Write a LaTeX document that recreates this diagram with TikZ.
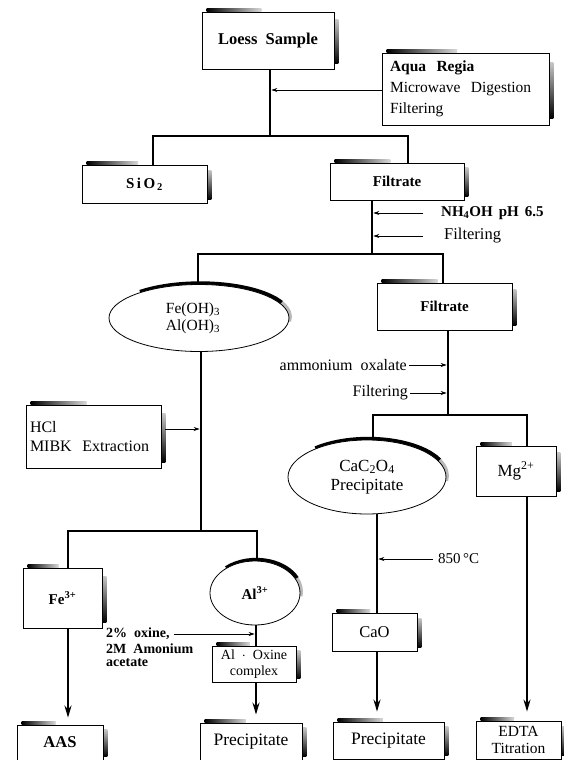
\documentclass[tikz,border=0pt]{standalone}
\usepackage{fontspec}
\setmainfont{Liberation Serif}
\usetikzlibrary{arrows.meta,calc,shapes.geometric}
\pgfdeclarelayer{bg}
\pgfsetlayers{bg,main}
\newcommand\fsz{\fontsize{15}{18}\selectfont}
\newcommand\fsize[2]{\fontsize{#1}{#2}\selectfont}
\newcommand\boxshade[1]{%
  \shade[left color=black, right color=gray!30] let \p1=(#1.north west), \p2=(#1.south east) in
    ({\x1+5pt},\y1) rectangle ({\x1+0.45*(\x2-\x1)},{\y1+3.5pt});
  \shade[top color=gray!45, bottom color=black] let \p1=(#1.north west), \p2=(#1.south east) in
    (\x2,{\y1-0.14*(\y1-\y2)}) rectangle ({\x2+4pt},{\y2+0.1*(\y1-\y2)});
}
\newcommand\ellshade[3]{%
  \draw[line width=4pt, black] ($(#1.center)+(1.2,-1.2)$) ++(-132:#2 and #3)
     arc[start angle=-132, end angle=-25, x radius=#2, y radius=#3];
  \draw[line width=3.5pt, gray!55] ($(#1.center)+(1.2,-1.2)$) ++(-25:#2 and #3)
     arc[start angle=-25, end angle=8, x radius=#2, y radius=#3];
}
\begin{document}
\begin{tikzpicture}[x=1pt,y=-1pt,
  box/.style={draw, line width=0.8pt, fill=white, inner sep=2pt, align=center, font=\fsz},
  oval/.style={draw, ellipse, line width=0.8pt, fill=white, inner sep=0pt, align=center, font=\fsz},
  lbl/.style={inner sep=0pt, font=\fsz, align=left},
  conn/.style={line width=2.3pt, line join=miter},
  darrow/.style={line width=2pt, -{Stealth[length=12pt,width=7pt]}},
  tarrow/.style={line width=0.7pt, -{Stealth[length=6pt,width=4pt]}},
]
\useasboundingbox (0,0) rectangle (564,760);

% ---------- nodes ----------
\node[box, minimum width=132pt, minimum height=57pt, font=\fsize{16.5}{19}] (loess) at (268,40.5) {\bfseries Loess\ \ Sample};
\node[box, minimum width=167pt, minimum height=72pt, text width=151pt, align=left, font=\fsize{15.5}{19}] (aqua) at (465.5,89)
  {\textbf{Aqua\ \ Regia}\\[2pt] Microwave\ \ Digestion\\[2pt] Filtering};
\node[box, minimum width=125pt, minimum height=38pt] (sio2) at (144.5,184) {\bfseries S\kern2.5pt i\kern2.5pt O\kern2pt\textsubscript{2}};
\node[box, minimum width=134pt, minimum height=37pt] (filt1) at (397,181.5) {\bfseries Filtrate};
\node[oval, minimum width=180pt, minimum height=67pt, font=\fsize{15.5}{17.2}] (e1) at (199,318)
  {Fe(OH)\textsubscript{3}\hspace*{12pt}\\ Al(OH)\textsubscript{3}\hspace*{12pt}};
\node[box, minimum width=135pt, minimum height=47pt] (filt2) at (444.5,306.5) {\bfseries Filtrate};
\node[box, minimum width=135pt, minimum height=63pt, text width=127pt, align=left, font=\fsize{16}{19}] (hcl) at (93.5,436.5)
  {HCl\\ MIBK\ \ Extraction};
\node[oval, minimum width=158pt, minimum height=74pt, font=\fsize{17}{19.5}] (e2) at (367,477) {CaC\textsubscript{2}O\textsubscript{4}\\ Precipitate};
\node[box, minimum width=80pt, minimum height=50pt, font=\fsize{17}{19}] (mg) at (516,471) {Mg\textsuperscript{2+}};
\node[box, minimum width=79pt, minimum height=60pt] (fe) at (62.5,598) {\bfseries Fe\textsuperscript{3+}};
\node[oval, minimum width=90pt, minimum height=64pt] (e3) at (255,593) {\bfseries Al\textsuperscript{3+}};
\node[box, minimum width=84pt, minimum height=36pt, inner sep=0pt, font=\fsize{14}{15.6}] (alox) at (254,664) {Al\ \ $\cdot$\ \ Oxine\\ complex};
\node[box, minimum width=85pt, minimum height=38pt, font=\fsize{16.5}{19}] (cao) at (374.5,632) {CaO};
\node[box, minimum width=86pt, minimum height=35pt, font=\fsize{16.5}{19}] (aas) at (60,742.5) {\bfseries AAS};
\node[box, minimum width=102pt, minimum height=37pt, font=\fsize{17.5}{19}] (prec1) at (251,741.5) {Precipitate};
\node[box, minimum width=111pt, minimum height=37pt, font=\fsize{17.5}{19}] (prec2) at (388.5,740.5) {Precipitate};
\node[box, minimum width=85pt, minimum height=38pt, inner sep=0pt, font=\fsize{15.5}{17.3}] (edta) at (518.5,740) {EDTA\\ Titration};

% ---------- labels ----------
\node[lbl, anchor=west] (nh4) at (441,213) {\bfseries NH\textsubscript{4}OH\hspace{6pt}pH\hspace{6pt}6.5};
\node[lbl, anchor=west, font=\fsize{16.5}{19}] (filtA) at (444,236) {Filtering};
\node[lbl, anchor=east, font=\fsize{16}{19}] (amox) at (407,365) {ammonium\hspace{8pt}oxalate};
\node[lbl, anchor=east, font=\fsize{16}{19}] (filtB) at (408,393) {Filtering};
\node[lbl, anchor=west] (t850) at (438,559) {850\,°C};
\node[lbl, anchor=west, font=\fsize{14}{16}\bfseries] (ox1) at (106,634) {2\%\ \ oxine,};
\node[lbl, anchor=west, font=\fsize{14}{16}\bfseries] (ox2) at (106,649) {2M\ \ Amonium};
\node[lbl, anchor=west, font=\fsize{14}{16}\bfseries] (ox3) at (106,663) {acetate};

% ---------- junction coordinates ----------
\coordinate (j1) at (270,136);
\coordinate (c1) at (153,136);
\coordinate (c2) at (408,136);
\coordinate (j2) at (372,254);
\coordinate (c3) at (198,254);
\coordinate (c4) at (443,254);
\coordinate (j4) at (448,415);
\coordinate (c5) at (373,415);
\coordinate (c6) at (527,415);
\coordinate (j5) at (201,531);
\coordinate (c7) at (68,531);
\coordinate (c8) at (257,531);
\coordinate (j6) at (377,559);
\coordinate (j7) at (256,634);

% ---------- connectors ----------
\draw[conn] (loess.south -| j1) -- (j1);
\draw[conn] (sio2.north -| c1) -- (c1) -- (c2) -- (filt1.north -| c2);
\draw[conn] (filt1.south -| j2) -- (j2);
\draw[conn] (e1.north -| c3) -- (c3) -- (c4) -- (filt2.north -| c4);
\draw[conn] (filt2.south -| j4) -- (j4);
\draw[conn] (e2.north -| c5) -- (c5) -- (c6) -- (mg.north -| c6);
\draw[conn] (e1.south -| j5) -- (j5);
\draw[conn] (fe.north -| c7) -- (c7) -- (c8) -- (e3.north -| c8);
\draw[conn] (e3.south -| j7) -- (alox.north -| j7);
\draw[conn] (e2.south -| j6) -- (cao.north -| j6);

\draw[darrow, shorten >=7pt] (fe.south -| c7) -- (aas.north -| c7);
\draw[darrow, shorten >=8pt] (alox.south -| j7) -- (prec1.north -| j7);
\draw[darrow, shorten >=10pt] (cao.south -| j6) -- (prec2.north -| j6);
\draw[darrow, shorten >=9pt] (mg.south -| c6) -- (edta.north -| c6);

% ---------- side arrows ----------
\draw[tarrow, shorten >=1.3pt] ([yshift=-1pt]aqua.west) -- ([yshift=-1pt]aqua.west -| j1);
\draw[tarrow, shorten <=18pt, shorten >=1.3pt] (nh4.west) -- (nh4.west -| j2);
\draw[tarrow, shorten <=21pt, shorten >=1.3pt] (filtA.west) -- (filtA.west -| j2);
\draw[tarrow, shorten <=2pt, shorten >=1.3pt] (amox.east) -- (amox.east -| j4);
\draw[tarrow, shorten <=2pt, shorten >=1.3pt] (filtB.east) -- (filtB.east -| j4);
\draw[tarrow, shorten <=4pt, shorten >=1.3pt] ([yshift=7.5pt]hcl.east) -- ([yshift=7.5pt]hcl.east -| j5);
\draw[tarrow, shorten <=5pt, shorten >=1.3pt] (t850.west) -- (t850.west -| j6);
\draw[tarrow, shorten <=4pt, shorten >=1.3pt] (ox1.east) -- (ox1.east -| j7);

% ---------- shadows ----------
\begin{pgfonlayer}{bg}
\fill[white] (0,0) rectangle (564,760);
\boxshade{loess}\boxshade{aqua}\boxshade{sio2}\boxshade{filt1}\boxshade{filt2}
\boxshade{hcl}\boxshade{mg}\boxshade{fe}\boxshade{alox}\boxshade{cao}
\boxshade{aas}\boxshade{prec1}\boxshade{prec2}\boxshade{edta}
\ellshade{e1}{90}{33.5}
\ellshade{e2}{79}{37}
\ellshade{e3}{45}{32}
\end{pgfonlayer}
\end{tikzpicture}
\end{document}
